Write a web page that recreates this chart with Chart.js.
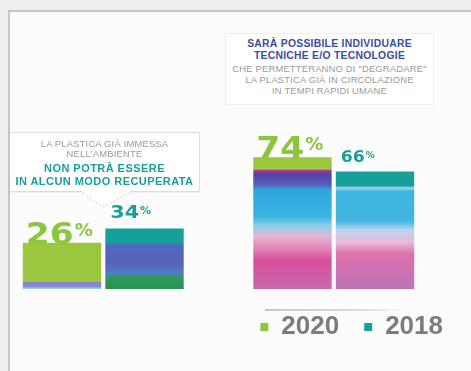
<!DOCTYPE html>
<html>
<head>
<meta charset="utf-8">
<script src="https://cdn.jsdelivr.net/npm/chart.js@4"></script>
<style>
    html, body { margin: 0; padding: 0; width: 471px; height: 371px; overflow: hidden; background: #efefef; font-family: "Liberation Sans", Arial, sans-serif; }
    #frame { position: absolute; left: 8px; top: 10px; width: 480px; height: 380px; background: #fcfcfc; border-left: 2px solid #c6c6c6; border-top: 2px solid #c6c6c6; }
    #chart { position: absolute; left: -12px; top: 0; }
    .note { position: absolute; text-align: center; text-transform: uppercase; }
    .note div { white-space: nowrap; }
    #note-left { left: 10px; top: 132px; width: 189px; height: 58px; background: #fff; border: 1px solid #dcdcdc; border-left: none; box-shadow: 0 1px 2px rgba(0,0,0,0.06); }
    #note-right { left: 225px; top: 33px; width: 207px; height: 70px; background: #fff; border: 1px solid #eeeeee; }
    .thin { color: #9a9a9a; font-size: 9.4px; line-height: 10px; letter-spacing: 0.2px; }
    .teal { color: #1a9e9a; font-weight: bold; font-size: 11px; line-height: 13px; letter-spacing: 0.45px; }
    .blue { color: #3e4d9e; font-weight: bold; font-size: 10.4px; line-height: 12px; letter-spacing: 0.25px; }
    #pointer { position: absolute; left: 0; top: 0; }
    #base-line { position: absolute; left: 265px; top: 309px; width: 140px; height: 2px; background: linear-gradient(to right, #c6c2dc, #dcdaea 70%, rgba(230,230,240,0)); }
</style>
</head>
<body>
<div id="frame"></div>
<div id="base-line"></div>
<canvas id="chart" width="480" height="371"></canvas>

<div class="note" id="note-left">
    <div class="thin" style="margin-top:6px">La plastica già immessa</div>
    <div class="thin">nell'ambiente</div>
    <div class="teal" style="margin-top:3px">non potrà essere</div>
    <div class="teal">in alcun modo recuperata</div>
</div>
<svg id="pointer" width="471" height="371">
    <polyline points="80,190.5 103,207 133,190.5" fill="#fff" stroke="#cfcfcf" stroke-width="1" stroke-dasharray="2,2"/>
</svg>

<div class="note" id="note-right">
    <div class="blue" style="margin-top:4px">sarà possibile individuare</div>
    <div class="blue">tecniche e/o tecnologie</div>
    <div class="thin" style="margin-top:1px; line-height:11px">che permetteranno di "degradare"</div>
    <div class="thin" style="line-height:11px">la plastica già in circolazione</div>
    <div class="thin" style="line-height:11px">in tempi rapidi umane</div>
</div>

<script>
// two questions of the survey, answers in percent
const questions = ['Non potrà essere recuperata', 'Sarà possibile degradarla'];
const years = ['2020', '2018'];
const values2020 = [26, 74];
const values2018 = [34, 66];

// styles
const legendColors = ['#8cc63f', '#17a09a'];
const labelColors = ['#8cc63f', '#1a9e9a'];
const labelSizes = [[30, 30], [18, 15]];

// colour bands inside each bar: [fraction from top, colour]
const barBands = [
    [
        [[0, '#9bc73e'], [0.84, '#9bc73e'], [0.86, '#8f7fcb'], [0.94, '#7a8ad0'], [1, '#a8d8e8']],
        [[0, '#9bc73e'], [0.09, '#9bc73e'], [0.1, '#b23a82'], [0.13, '#4e43a6'], [0.2, '#5a58b8'], [0.25, '#2fa6dc'],
         [0.45, '#3bb4e2'], [0.52, '#8ccfe8'], [0.6, '#e4b6d6'], [0.7, '#e27fb6'], [0.78, '#d84f98'], [1, '#c76aae']]
    ],
    [
        [[0, '#16a09a'], [0.24, '#16a09a'], [0.26, '#4d6cc0'], [0.55, '#5a5fb8'], [0.75, '#4f7cc6'], [0.8, '#2f9a5e'], [1, '#2a8f52']],
        [[0, '#17a09b'], [0.12, '#17a09b'], [0.14, '#9fd7ea'], [0.17, '#3db6e0'], [0.42, '#44b6e0'], [0.5, '#b8d6ee'],
         [0.6, '#ebbbd8'], [0.7, '#dd70ad'], [1, '#be74b6']]
    ]
];

function barFill(ctx) {
    const chart = ctx.chart;
    const area = chart.chartArea;
    if (!area || ctx.type !== 'data') return legendColors[ctx.datasetIndex];
    const y = chart.scales.y;
    const top = y.getPixelForValue(ctx.raw);
    const base = y.getPixelForValue(0);
    const g = chart.ctx.createLinearGradient(0, top, 0, base);
    barBands[ctx.datasetIndex][ctx.dataIndex].forEach(s => g.addColorStop(s[0], s[1]));
    return g;
}

// big percentage figures over the bars
const percentLabels = {
    id: 'percentLabels',
    afterDatasetsDraw(chart) {
        const c = chart.ctx;
        chart.data.datasets.forEach((ds, di) => {
            chart.getDatasetMeta(di).data.forEach((bar, i) => {
                const size = labelSizes[di][i];
                const small = Math.round(size * 0.6);
                const left = bar.x - bar.width / 2 + (di === 0 ? 3 : 5);
                const baseY = di === 0 ? bar.y + 1 : bar.y - 10;
                const sx = 1.15;
                c.save();
                c.fillStyle = labelColors[di];
                c.textBaseline = 'alphabetic';
                c.textAlign = 'left';
                c.font = 'bold ' + size + 'px "DejaVu Sans"';
                const text = String(ds.data[i]);
                const w = c.measureText(text).width * sx;
                c.translate(left, baseY);
                c.scale(sx, 1);
                c.fillText(text, 0, 0);
                c.restore();
                c.save();
                c.fillStyle = labelColors[di];
                c.font = 'bold ' + small + 'px "DejaVu Sans"';
                c.fillText('%', left + w + 1, baseY - size * 0.86 + small * 0.73);
                c.restore();
            });
        });
    }
};

new Chart(document.getElementById('chart'), {
    type: 'bar',
    data: {
        labels: questions,
        datasets: [
            { label: years[0], data: values2020, backgroundColor: barFill },
            { label: years[1], data: values2018, backgroundColor: barFill }
        ]
    },
    options: {
        responsive: false,
        animation: false,
        categoryPercentage: 0.716,
        barPercentage: 0.95,
        layout: { padding: { top: 111, bottom: 21, left: 0, right: 0 } },
        scales: {
            x: { display: false },
            y: {
                position: 'right',
                min: 0,
                max: 100,
                ticks: { display: false },
                grid: { display: false },
                border: { display: false },
                afterFit(scale) { scale.width = 19; }
            }
        },
        plugins: {
            tooltip: { enabled: false },
            legend: {
                position: 'bottom',
                align: 'end',
                labels: {
                    color: '#7c7c7c',
                    font: { family: '"Liberation Sans", Arial', size: 26, weight: 'bold' },
                    boxWidth: 8,
                    boxHeight: 8,
                    padding: 25,
                    generateLabels(chart) {
                        return years.map((y, i) => ({
                            text: y,
                            fillStyle: legendColors[i],
                            strokeStyle: legendColors[i],
                            lineWidth: 0,
                            fontColor: '#7c7c7c',
                            datasetIndex: i,
                            hidden: false
                        }));
                    }
                }
            }
        }
    },
    plugins: [percentLabels]
});
</script>
</body>
</html>
